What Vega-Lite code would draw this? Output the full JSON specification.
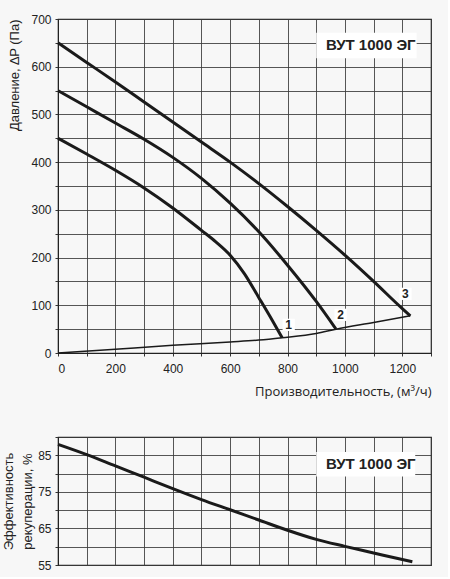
{
  "$schema": "https://vega.github.io/schema/vega-lite/v6.json",
  "background": "#f7f7f7",
  "padding": {"left": 2, "top": 12, "right": 15, "bottom": 5},
  "spacing": 36,
  "config": {
    "view": {"stroke": "#222", "strokeWidth": 1.2},
    "axis": {
      "labelFont": "Liberation Sans",
      "labelFontSize": 12,
      "labelColor": "#222",
      "titleFont": "Liberation Sans",
      "titleFontSize": 13,
      "titleFontWeight": "normal",
      "titleColor": "#222",
      "gridColor": "#3a3a3a",
      "gridWidth": 1,
      "gridOpacity": 0.85,
      "tickColor": "#333",
      "tickSize": 3,
      "domainColor": "#222",
      "labelPadding": 4
    }
  },
  "datasets": {
    "curves": [
      {"q": 0, "p": 450, "curve": "1"},
      {"q": 100, "p": 417, "curve": "1"},
      {"q": 200, "p": 383, "curve": "1"},
      {"q": 300, "p": 346, "curve": "1"},
      {"q": 400, "p": 304, "curve": "1"},
      {"q": 500, "p": 257, "curve": "1"},
      {"q": 550, "p": 233, "curve": "1"},
      {"q": 600, "p": 205, "curve": "1"},
      {"q": 650, "p": 166, "curve": "1"},
      {"q": 700, "p": 116, "curve": "1"},
      {"q": 750, "p": 65, "curve": "1"},
      {"q": 781, "p": 32, "curve": "1"},
      {"q": 0, "p": 550, "curve": "2"},
      {"q": 100, "p": 516, "curve": "2"},
      {"q": 200, "p": 482, "curve": "2"},
      {"q": 300, "p": 448, "curve": "2"},
      {"q": 400, "p": 410, "curve": "2"},
      {"q": 500, "p": 366, "curve": "2"},
      {"q": 600, "p": 314, "curve": "2"},
      {"q": 700, "p": 254, "curve": "2"},
      {"q": 800, "p": 184, "curve": "2"},
      {"q": 900, "p": 108, "curve": "2"},
      {"q": 969, "p": 50, "curve": "2"},
      {"q": 0, "p": 650, "curve": "3"},
      {"q": 100, "p": 609, "curve": "3"},
      {"q": 200, "p": 568, "curve": "3"},
      {"q": 300, "p": 526, "curve": "3"},
      {"q": 400, "p": 484, "curve": "3"},
      {"q": 500, "p": 442, "curve": "3"},
      {"q": 600, "p": 400, "curve": "3"},
      {"q": 700, "p": 355, "curve": "3"},
      {"q": 800, "p": 307, "curve": "3"},
      {"q": 900, "p": 257, "curve": "3"},
      {"q": 1000, "p": 205, "curve": "3"},
      {"q": 1100, "p": 150, "curve": "3"},
      {"q": 1200, "p": 93, "curve": "3"},
      {"q": 1228, "p": 78, "curve": "3"}
    ],
    "system": [
      {"q": 0, "p": 0},
      {"q": 200, "p": 8},
      {"q": 400, "p": 16},
      {"q": 600, "p": 23},
      {"q": 700, "p": 27},
      {"q": 781, "p": 32},
      {"q": 900, "p": 41},
      {"q": 969, "p": 50},
      {"q": 1100, "p": 64},
      {"q": 1228, "p": 78}
    ],
    "labels": [
      {"q": 804, "p": 59, "label": "1"},
      {"q": 985, "p": 80, "label": "2"},
      {"q": 1211, "p": 124, "label": "3"}
    ],
    "efficiency": [
      {"q": 0, "p": 88},
      {"q": 100, "p": 85.2},
      {"q": 200, "p": 82.1},
      {"q": 300, "p": 79},
      {"q": 400, "p": 75.9},
      {"q": 500, "p": 72.9},
      {"q": 600, "p": 70.1},
      {"q": 700, "p": 67.3},
      {"q": 800, "p": 64.5},
      {"q": 900, "p": 62},
      {"q": 1000, "p": 60.1},
      {"q": 1100, "p": 58.3},
      {"q": 1200, "p": 56.5},
      {"q": 1235, "p": 55.9}
    ]
  },
  "vconcat": [
    {
      "width": 373,
      "height": 334,
      "encoding": {
        "x": {"field": "q", "type": "quantitative", "scale": {"domain": [0, 1300], "nice": false},
          "axis": {
            "values": [0, 100, 200, 300, 400, 500, 600, 700, 800, 900, 1000, 1100, 1200, 1300],
            "tickCount": 30,
            "labelExpr": "datum.value % 200 === 0 ? datum.label : ''",
            "format": "d",
            "grid": true,
            "labelPadding": 7,
            "title": "Производительность, (м³/ч)",
            "titleFont": "Open Sans",
            "titleAnchor": "end",
            "titlePadding": 11
          }},
        "y": {"field": "p", "type": "quantitative", "scale": {"domain": [0, 700], "nice": false},
          "axis": {
            "values": [0, 50, 100, 150, 200, 250, 300, 350, 400, 450, 500, 550, 600, 650, 700],
            "tickCount": 30,
            "labelExpr": "datum.value % 100 === 0 ? datum.label : ''",
            "grid": true,
            "title": "Давление, ∆P (Па)",
            "titleAnchor": "end",
            "titlePadding": 9
          }}
      },
      "layer": [
        {
          "data": {"values": [{"q": 900, "q2": 1250, "p": 618, "p2": 671}]},
          "mark": {"type": "rect", "fill": "white"},
          "encoding": {
            "x2": {"field": "q2"},
            "y2": {"field": "p2"}
          }
        },
        {
          "data": {"values": [{"q": 1090, "p": 645, "name": "ВУТ 1000 ЭГ"}]},
          "mark": {"type": "text", "font": "Liberation Sans", "fontSize": 15, "fontWeight": "bold", "color": "#222"},
          "encoding": {
            "text": {"field": "name"}
          }
        },
        {
          "data": {"name": "system"},
          "mark": {"type": "line", "color": "#1a1a1a", "strokeWidth": 1.5, "interpolate": "monotone"},
          "encoding": {}
        },
        {
          "data": {"name": "curves"},
          "mark": {"type": "line", "color": "#1a1a1a", "strokeWidth": 3, "interpolate": "monotone"},
          "encoding": {
            "detail": {"field": "curve", "type": "nominal"}
          }
        },
        {
          "data": {"name": "labels"},
          "mark": {"type": "point", "shape": "square", "filled": true, "color": "white", "opacity": 1, "size": 150},
          "encoding": {}
        },
        {
          "data": {"name": "labels"},
          "mark": {"type": "text", "font": "Liberation Sans", "fontSize": 12, "fontWeight": "bold", "color": "#222"},
          "encoding": {
            "text": {"field": "label"}
          }
        }
      ]
    },
    {
      "width": 373,
      "height": 128,
      "encoding": {
        "x": {"field": "q", "type": "quantitative", "scale": {"domain": [0, 1300], "nice": false},
          "axis": {
            "values": [0, 100, 200, 300, 400, 500, 600, 700, 800, 900, 1000, 1100, 1200, 1300],
            "tickCount": 30,
            "labels": false, "ticks": false, "domain": false, "grid": true, "title": null
          }},
        "y": {"field": "p", "type": "quantitative", "scale": {"domain": [55, 90], "nice": false, "zero": false},
          "axis": {
            "values": [55, 60, 65, 70, 75, 80, 85, 90],
            "tickCount": 30,
            "labelExpr": "(datum.value - 55) % 10 === 0 ? datum.label : ''",
            "grid": true,
            "title": ["Эффективность", "рекуперации, %"],
            "titleLineHeight": 19,
            "titlePadding": 3
          }}
      },
      "layer": [
        {
          "data": {"values": [{"q": 900, "q2": 1245, "p": 79.2, "p2": 85.9}]},
          "mark": {"type": "rect", "fill": "white"},
          "encoding": {
            "x2": {"field": "q2"},
            "y2": {"field": "p2"}
          }
        },
        {
          "data": {"values": [{"q": 1090, "p": 82.5, "name": "ВУТ 1000 ЭГ"}]},
          "mark": {"type": "text", "font": "Liberation Sans", "fontSize": 15, "fontWeight": "bold", "color": "#222"},
          "encoding": {
            "text": {"field": "name"}
          }
        },
        {
          "data": {"name": "efficiency"},
          "mark": {"type": "line", "color": "#1a1a1a", "strokeWidth": 3, "interpolate": "monotone"},
          "encoding": {}
        }
      ]
    }
  ]
}
